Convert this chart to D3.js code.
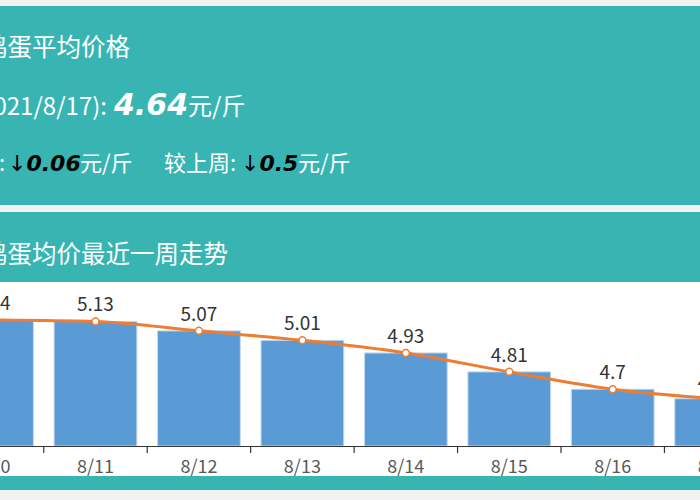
<!DOCTYPE html>
<html>
<head>
<meta charset="utf-8">
<script src="https://cdn.jsdelivr.net/npm/d3@7"></script>
<style>
  html, body { margin: 0; padding: 0; background: #f2f2f2; overflow: hidden; }
  svg { display: block; }
</style>
</head>
<body>
<div id="chart"></div>
<script>
// Data
const days = ["8/10", "8/11", "8/12", "8/13", "8/14", "8/15", "8/16", "8/17"];
const prices = [5.14, 5.13, 5.07, 5.01, 4.93, 4.81, 4.70, 4.64];
const todayPrice = 4.64;
const dayChange = 0.06;
const weekChange = 0.5;

const W = 700, H = 500;
const teal = "#38b5b2";
const cjk = "'Noto Sans CJK SC', 'Noto Sans', sans-serif";
const boldNum = "'DejaVu Sans', sans-serif";

const svg = d3.select("#chart").append("svg")
    .attr("width", W)
    .attr("height", H);

// page panels
svg.append("rect").attr("x", 0).attr("y", 0).attr("width", W).attr("height", H).attr("fill", "#f2f2f2");
svg.append("rect").attr("x", 0).attr("y", 6).attr("width", W).attr("height", 199).attr("fill", teal);
svg.append("rect").attr("x", 0).attr("y", 212).attr("width", W).attr("height", 70).attr("fill", teal);
svg.append("rect").attr("x", 0).attr("y", 282).attr("width", W).attr("height", 194).attr("fill", "#ffffff");
svg.append("rect").attr("x", 0).attr("y", 476).attr("width", W).attr("height", 14).attr("fill", teal);

// summary panel texts
svg.append("text")
    .attr("x", -17).attr("y", 56)
    .attr("fill", "#fff").style("font-family", cjk).style("font-size", "24.5px")
    .text("鸡蛋平均价格");

svg.append("text")
    .attr("x", 107).attr("y", 115)
    .attr("text-anchor", "end")
    .attr("fill", "#fff").style("font-family", cjk).style("font-size", "24px")
    .text("今日(2021/8/17):");

svg.append("text")
    .attr("x", 114).attr("y", 115)
    .attr("fill", "#fff").style("font-family", boldNum).style("font-size", "30px")
    .style("font-weight", "bold").style("font-style", "italic")
    .text(todayPrice.toFixed(2));

svg.append("text")
    .attr("x", 188).attr("y", 115)
    .attr("fill", "#fff").style("font-family", cjk).style("font-size", "24px")
    .text("元/斤");

function changeLine(label, labelEnd, arrowX, value, unitX) {
    svg.append("text")
        .attr("x", labelEnd).attr("y", 171)
        .attr("text-anchor", "end")
        .attr("fill", "#fff").style("font-family", cjk).style("font-size", "22px")
        .text(label);
    const t = svg.append("text")
        .attr("x", arrowX).attr("y", 171)
        .attr("fill", "#000").style("font-family", boldNum).style("font-size", "22px")
        .style("font-style", "italic");
    t.append("tspan").style("font-weight", "normal").text("↓");
    t.append("tspan").style("font-weight", "bold").text(value);
    svg.append("text")
        .attr("x", unitX).attr("y", 171)
        .attr("fill", "#fff").style("font-family", cjk).style("font-size", "22px")
        .text("元/斤");
}
changeLine("较昨日:", 5, 8, dayChange, 80);
changeLine("较上周:", 236, 241, weekChange, 298);

// chart header
svg.append("text")
    .attr("x", -17).attr("y", 263)
    .attr("fill", "#fff").style("font-family", cjk).style("font-size", "24.5px")
    .text("鸡蛋均价最近一周走势");

// scales
const x = d3.scaleBand()
    .domain(days)
    .range([-59.7, 767.9])
    .paddingInner(0.2)
    .paddingOuter(0.1);

const y = d3.scaleLinear()
    .domain([d3.min(prices) - 0.3, d3.max(prices) + 0.3])
    .range([446, 272.5]);

const data = days.map((d, i) => ({ day: d, value: prices[i] }));
const cx = d => x(d.day) + x.bandwidth() / 2;

// bars
svg.append("g").selectAll("rect")
    .data(data)
    .enter()
    .append("rect")
    .attr("x", d => x(d.day))
    .attr("y", d => y(d.value))
    .attr("width", x.bandwidth())
    .attr("height", d => y.range()[0] - y(d.value))
    .attr("fill", "#5b9bd5")
    .attr("stroke", "#c3daf2")
    .attr("stroke-width", 1);

// axis
const axis = svg.append("g")
    .attr("transform", `translate(0,${y.range()[0]})`)
    .call(d3.axisBottom(x).tickSize(0).tickPadding(14));
axis.select(".domain").attr("stroke", "#333").attr("stroke-width", 1.2);
axis.selectAll("text")
    .attr("fill", "#595959")
    .style("font-family", cjk)
    .style("font-size", "18px");

axis.selectAll(".bound")
    .data(days)
    .enter()
    .append("line")
    .attr("class", "bound")
    .attr("x1", d => x(d) - x.step() * 0.1)
    .attr("x2", d => x(d) - x.step() * 0.1)
    .attr("y1", 0)
    .attr("y2", 7)
    .attr("stroke", "#333")
    .attr("stroke-width", 1.2);

// trend line
const line = d3.line()
    .x(cx)
    .y(d => y(d.value))
    .curve(d3.curveMonotoneX);

svg.append("path")
    .datum(data)
    .attr("d", line)
    .attr("fill", "none")
    .attr("stroke", "#ed7d31")
    .attr("stroke-width", 3);

svg.append("g").selectAll("circle")
    .data(data)
    .enter()
    .append("circle")
    .attr("cx", cx)
    .attr("cy", d => y(d.value))
    .attr("r", 3.5)
    .attr("fill", "#fff")
    .attr("stroke", "#ed7d31")
    .attr("stroke-width", 1.5);

// value labels
svg.append("g").selectAll("text")
    .data(data)
    .enter()
    .append("text")
    .attr("x", cx)
    .attr("y", d => y(d.value) - 10)
    .attr("text-anchor", "middle")
    .attr("fill", "#333")
    .style("font-family", cjk)
    .style("font-size", "19px")
    .text(d => d.value);
</script>
</body>
</html>
